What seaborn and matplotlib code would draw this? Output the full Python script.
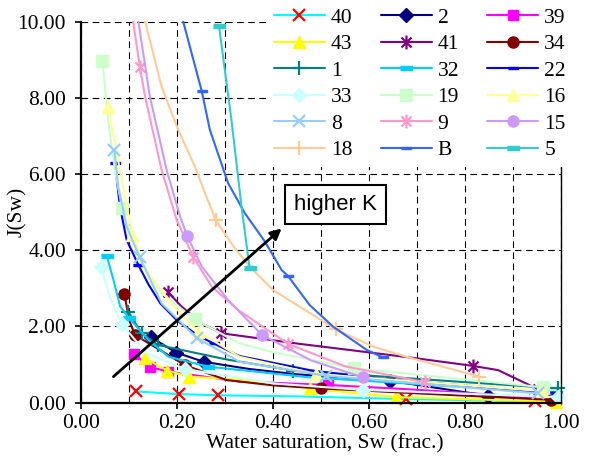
import numpy as np
import matplotlib
matplotlib.use("Agg")
import matplotlib.pyplot as plt
import matplotlib.ticker as mticker
from matplotlib.lines import Line2D
from matplotlib.path import Path
import seaborn as sns

# ---------------- data ----------------
sw_40 = [0.114, 0.203, 0.284, 0.45, 0.676, 0.945]
j_40 = [0.29, 0.22, 0.19, 0.16, 0.09, 0.03]
mk_40 = [0, 1, 2, 4, 5]

sw_2 = [0.146, 0.198, 0.255, 0.35, 0.45, 0.643, 0.847, 0.99]
j_2 = [1.71, 1.31, 1.07, 0.88, 0.74, 0.57, 0.18, 0.12]
mk_2 = [0, 1, 2, 5, 6, 7]

sw_39 = [0.109, 0.144, 0.181, 0.33, 0.515, 0.678, 0.99]
j_39 = [1.27, 0.93, 0.81, 0.55, 0.46, 0.35, 0.10]
mk_39 = [0, 1, 2, 4, 6]

sw_43 = [0.133, 0.179, 0.224, 0.33, 0.476, 0.657, 0.99]
j_43 = [1.16, 0.84, 0.68, 0.60, 0.37, 0.14, 0.02]
mk_43 = [0, 1, 2, 4, 5, 6]

sw_41 = [0.18, 0.209, 0.251, 0.291, 0.455, 0.546, 0.699, 0.817, 0.869, 0.952]
j_41 = [2.91, 2.52, 2.08, 1.82, 1.54, 1.40, 1.16, 0.96, 0.85, 0.35]
mk_41 = [0, 3, 7, 9]

sw_34 = [0.0896, 0.101, 0.112, 0.164, 0.216, 0.303, 0.40, 0.50, 0.733, 0.98]
j_34 = [2.84, 2.12, 1.77, 1.38, 0.98, 0.59, 0.45, 0.37, 0.22, 0.07]
mk_34 = [0, 2, 4, 7, 9]

sw_1 = [0.098, 0.126, 0.16, 0.303, 0.442, 0.70, 0.994]
j_1 = [2.38, 1.82, 1.51, 1.13, 0.84, 0.62, 0.37]
mk_1 = [0, 1, 2, 4, 6]

sw_32 = [0.053, 0.067, 0.081, 0.10, 0.14, 0.182, 0.265, 0.476, 0.678, 0.99]
j_32 = [3.85, 3.22, 2.52, 2.21, 1.64, 1.20, 0.94, 0.66, 0.50, 0.25]
mk_32 = [0, 3, 6, 9]

sw_22 = [0.070, 0.0806, 0.0945, 0.119, 0.14, 0.165, 0.20, 0.244, 0.276, 0.33, 0.476, 0.60, 0.99]
j_22 = [6.28, 5.14, 4.27, 3.61, 3.10, 2.60, 2.15, 1.75, 1.55, 1.22, 0.85, 0.65, 0.25]
mk_22 = [0, 3, 8, 11, 12]

sw_33 = [0.041, 0.06, 0.084, 0.136, 0.216, 0.40, 0.5875, 0.994]
j_33 = [3.55, 2.75, 2.06, 1.29, 0.88, 0.50, 0.33, 0.14]
mk_33 = [0, 2, 4, 6, 7]

sw_19 = [0.044, 0.056, 0.070, 0.085, 0.105, 0.126, 0.1675, 0.237, 0.33, 0.40, 0.568, 0.9625]
j_19 = [8.96, 7.42, 6.10, 5.10, 4.35, 3.66, 2.87, 2.18, 1.55, 1.32, 0.90, 0.40]
mk_19 = [0, 3, 7, 10, 11]

sw_16 = [0.056, 0.106, 0.14, 0.188, 0.244, 0.33, 0.489, 0.96]
j_16 = [7.75, 4.40, 3.39, 2.60, 1.86, 1.20, 0.75, 0.30]
mk_16 = [0, 1, 4, 6, 7]

sw_8 = [0.069, 0.077, 0.0945, 0.122, 0.1675, 0.241, 0.33, 0.51, 0.952]
j_8 = [6.63, 5.67, 4.62, 3.81, 2.60, 1.69, 1.07, 0.70, 0.24]
mk_8 = [0, 3, 5, 7, 8]

sw_9 = [0.108, 0.122, 0.133, 0.1675, 0.199, 0.233, 0.272, 0.327, 0.383, 0.431, 0.55, 0.678, 0.716]
j_9 = [10.0, 8.82, 8.03, 6.10, 4.79, 3.83, 3.04, 2.43, 1.95, 1.54, 0.95, 0.63, 0.53]
mk_9 = [1, 5, 9, 12]

sw_15 = [0.119, 0.143, 0.178, 0.206, 0.221, 0.251, 0.306, 0.377, 0.48, 0.5875]
j_15 = [10.0, 8.03, 6.10, 4.88, 4.37, 3.57, 2.69, 1.77, 1.10, 0.66]
mk_15 = [4, 7, 9]

sw_18 = [0.133, 0.1675, 0.202, 0.237, 0.258, 0.28, 0.32, 0.351, 0.40, 0.531, 0.608, 0.678, 0.83]
j_18 = [10.0, 8.29, 7.16, 6.19, 5.49, 4.79, 4.05, 3.57, 2.95, 1.92, 1.47, 1.20, 0.68]
mk_18 = [5, 9, 12]

sw_B = [0.2125, 0.23, 0.251, 0.268, 0.306, 0.341, 0.383, 0.4175, 0.431, 0.476, 0.525, 0.595, 0.628]
j_B = [10.0, 9.17, 8.18, 7.16, 5.76, 4.97, 4.22, 3.48, 3.32, 2.56, 1.99, 1.38, 1.19]
mk_B = [2, 8, 12]

sw_5 = [0.287, 0.313, 0.334, 0.351]
j_5 = [9.89, 7.42, 5.14, 3.52]
mk_5 = [0, 3]

x_ticks = [0.0, 0.2, 0.4, 0.6, 0.8, 1.0]
y_ticks = [0.0, 2.0, 4.0, 6.0, 8.0, 10.0]

# ---------------- styling ----------------
sns.set_theme(style="white")
plt.rcParams['font.family'] = ['Liberation Serif', 'DejaVu Serif']

DASH = [(-1, -0.32), (1, -0.32), (1, 0.32), (-1, 0.32)]
ASTER = Path([(-0.72, -0.72), (0.72, 0.72), (-0.72, 0.72), (0.72, -0.72), (0, -1), (0, 1)],
             [Path.MOVETO, Path.LINETO, Path.MOVETO, Path.LINETO, Path.MOVETO, Path.LINETO])

# label, x, y, marker idx, line colour, marker, marker colour, marker size, mew
series = [
    ("40", sw_40, j_40, mk_40, "#00FFFF", "x", "#FF0000", 8, 1.6),
    ("2", sw_2, j_2, mk_2, "#000080", "D", "#000080", 7, 1.0),
    ("39", sw_39, j_39, mk_39, "#FF00FF", "s", "#FF00FF", 7.5, 1.0),
    ("43", sw_43, j_43, mk_43, "#FFFF00", "^", "#FFFF00", 9, 1.0),
    ("41", sw_41, j_41, mk_41, "#800080", ASTER, "#800080", 10, 1.6),
    ("34", sw_34, j_34, mk_34, "#800000", "o", "#800000", 8, 1.0),
    ("1", sw_1, j_1, mk_1, "#008080", "+", "#008080", 10, 1.6),
    ("32", sw_32, j_32, mk_32, "#00CCFF", DASH, "#00CCFF", 9, 1.0),
    ("22", sw_22, j_22, mk_22, "#0000FF", DASH, "#0000FF", 6.5, 1.0),
    ("33", sw_33, j_33, mk_33, "#CCFFFF", "D", "#CCFFFF", 7, 1.0),
    ("19", sw_19, j_19, mk_19, "#CCFFCC", "s", "#CCFFCC", 8, 1.0),
    ("16", sw_16, j_16, mk_16, "#FFFF99", "^", "#FFFF99", 9, 1.0),
    ("8", sw_8, j_8, mk_8, "#99CCFF", "x", "#99CCFF", 8, 1.6),
    ("9", sw_9, j_9, mk_9, "#FF99CC", ASTER, "#FF99CC", 10, 1.6),
    ("15", sw_15, j_15, mk_15, "#CC99FF", "o", "#CC99FF", 8, 1.0),
    ("18", sw_18, j_18, mk_18, "#FFCC99", "+", "#FFCC99", 10, 1.6),
    ("B", sw_B, j_B, mk_B, "#3366FF", DASH, "#3366FF", 6.5, 1.0),
    ("5", sw_5, j_5, mk_5, "#33CCCC", DASH, "#33CCCC", 9, 1.0),
]

fig = plt.figure(figsize=(5.9, 4.59), dpi=100)
fig.patch.set_facecolor("white")
ax = fig.add_axes([81.3 / 590, 56.5 / 459, 479.7 / 590, 380.8 / 459])
ax.set_facecolor("white")

handles = {}
for lab, xs, ys, mk, lc, m, mc, ms, mew in series:
    sns.lineplot(x=xs, y=ys, ax=ax, estimator=None, sort=False, legend=False,
                 color=lc, lw=1.5, marker=m, markevery=mk, ms=ms,
                 mfc=mc, mec=mc, mew=mew, clip_on=False)
    handles[lab] = Line2D([], [], color=lc, lw=1.5, marker=m, ms=ms,
                          mfc=mc, mec=mc, mew=mew)

ax.set_xlim(0, 1)
ax.set_ylim(0, 10)
ax.set_xticks(x_ticks)
ax.set_yticks(y_ticks)
ax.xaxis.set_minor_locator(mticker.MultipleLocator(0.1))
ax.xaxis.set_major_formatter(mticker.FormatStrFormatter('%.2f'))
ax.yaxis.set_major_formatter(mticker.FormatStrFormatter('%.2f'))

dash_ls = (0, (6, 4))
ax.grid(axis='x', which='both', color='black', ls=dash_ls, lw=0.8)
ax.grid(axis='y', which='major', color='black', ls=dash_ls, lw=0.8)
ax.set_axisbelow(True)

for s in ['left', 'bottom']:
    ax.spines[s].set_color('black')
    ax.spines[s].set_linewidth(1.6)
ax.spines['right'].set_color('black')
ax.spines['right'].set_linewidth(1.0)
ax.spines['top'].set_visible(False)

ax.tick_params(axis='x', which='major', bottom=True, direction='out', length=4,
               width=1.2, color='black', labelsize=15.5, pad=4.0, labelcolor='black')
ax.tick_params(axis='x', which='minor', bottom=False, length=0)
ax.tick_params(axis='y', which='major', left=True, direction='out', length=4.5,
               width=1.2, color='black', labelsize=15.5, pad=6.5, labelcolor='black')

ax.set_xlabel('Water saturation, Sw (frac.)', fontsize=15.5, color='black')
ax.xaxis.set_label_coords(0.508, -0.084)
ax.set_ylabel('J(Sw)', fontsize=15.5, color='black')
ax.yaxis.set_label_coords(-0.113, 0.5)

# annotation arrow and text box
ax.annotate('', xy=(0.4175, 4.57), xytext=(0.067, 0.68),
            arrowprops=dict(arrowstyle='-|>', color='black', lw=2.0,
                            mutation_scale=16, shrinkA=0, shrinkB=0), zorder=6)
ax.text(0.53, 5.19, 'higher K', ha='center', va='center', fontsize=16,
        family=['Liberation Sans', 'DejaVu Sans'], color='black', zorder=7,
        bbox=dict(boxstyle='square,pad=0.4', fc='white', ec='black', lw=1.5))

order = ["40", "43", "1", "33", "8", "18",
         "2", "41", "32", "19", "9", "B",
         "39", "34", "22", "16", "15", "5"]
leg = fig.legend([handles[k] for k in order], order, ncol=3, loc='upper left',
                 bbox_to_anchor=(267.5 / 590, 1 - 1.0 / 459),
                 frameon=True, fancybox=False, edgecolor='none', facecolor='white',
                 framealpha=1, fontsize=15.5, handlelength=2.37, handletextpad=0.28,
                 columnspacing=1.3, labelspacing=0.3, borderpad=0.3, borderaxespad=0)
for t in leg.get_texts():
    t.set_color('black')

fig.savefig('out.png', dpi=100, facecolor='white')
